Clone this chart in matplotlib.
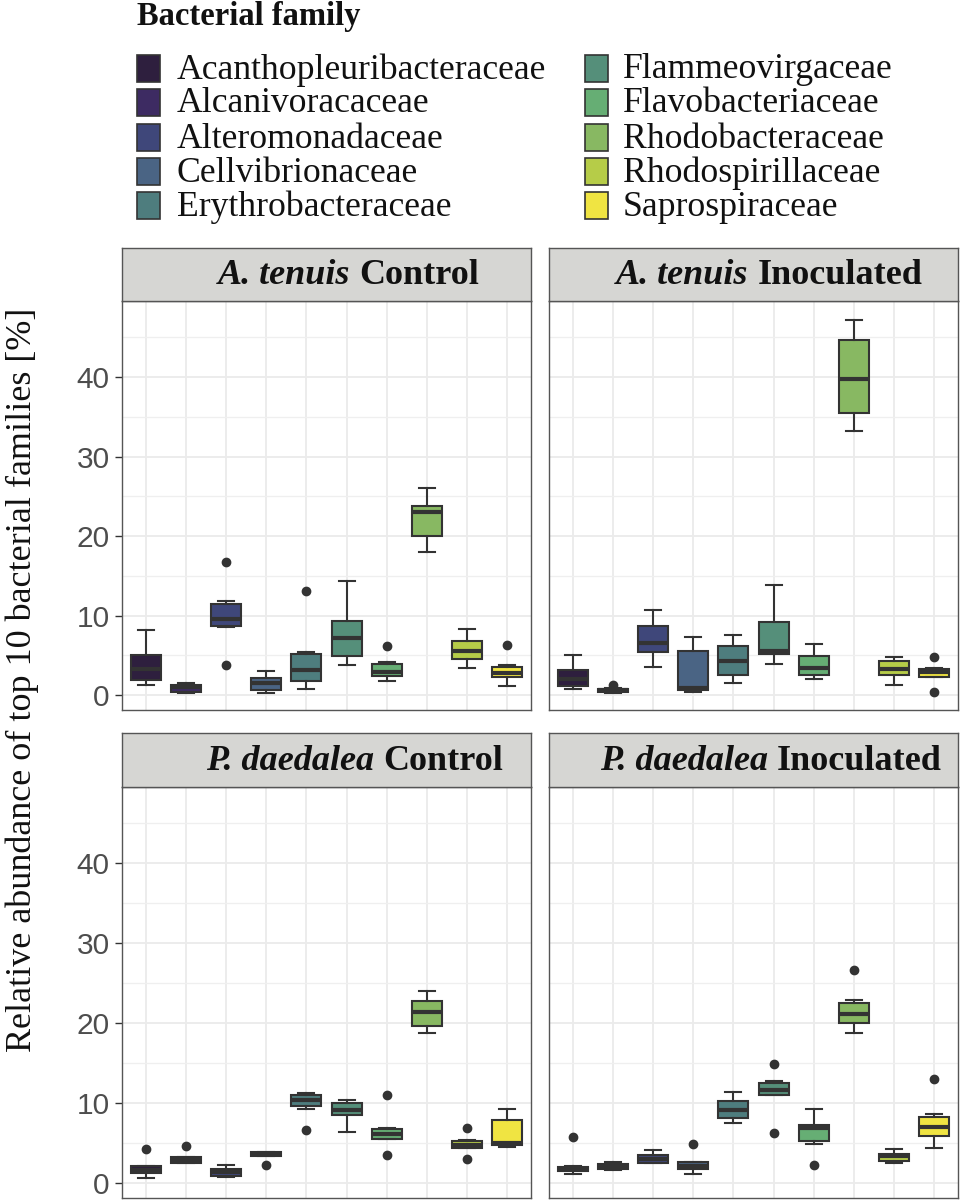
import matplotlib
matplotlib.use("Agg")
import matplotlib.pyplot as plt
from matplotlib.patches import Rectangle

W, H = 962, 1202

families = ["Acanthopleuribacteraceae", "Alcanivoracaceae", "Alteromonadaceae",
            "Cellvibrionaceae", "Erythrobacteraceae", "Flammeovirgaceae",
            "Flavobacteriaceae", "Rhodobacteraceae", "Rhodospirillaceae",
            "Saprospiraceae"]
colors = ["#2E1F3E", "#3D2B62", "#3F477A", "#4A6484", "#4E7D7E",
          "#558F7A", "#66AE74", "#88B862", "#B6CC48", "#F0E442"]

species = ["A. tenuis", "A. tenuis", "P. daedalea", "P. daedalea"]
treatments = ["Control", "Inoculated", "Control", "Inoculated"]

# A. tenuis Control
atc_whislo = [1.34, 0.33, 8.58, 0.29, 0.84, 3.85, 1.76, 18.0, 3.43, 1.21]
atc_q1 = [1.97, 0.42, 8.74, 0.71, 1.84, 4.9, 2.38, 20.0, 4.6, 2.26]
atc_med = [3.35, 1.0, 9.62, 1.55, 3.14, 7.2, 2.93, 23.0, 5.52, 2.8]
atc_q3 = [5.0, 1.34, 11.46, 2.18, 5.15, 9.37, 3.9, 23.8, 6.78, 3.6]
atc_whishi = [8.2, 1.55, 11.8, 3.0, 5.5, 14.3, 4.14, 26.0, 8.37, 3.85]
atc_out = [[], [], [16.8, 3.77], [], [13.1], [], [6.15], [], [], [6.28]]

# A. tenuis Inoculated
ati_whislo = [0.8, 0.33, 3.56, 0.38, 1.55, 3.97, 2.05, 33.2, 1.34, 2.3]
ati_q1 = [1.21, 0.42, 5.44, 0.71, 2.51, 5.19, 2.51, 35.5, 2.51, 2.3]
ati_med = [2.09, 0.63, 6.57, 0.92, 4.35, 5.52, 3.43, 39.8, 3.3, 2.93]
ati_q3 = [3.22, 0.84, 8.74, 5.6, 6.15, 9.2, 4.98, 44.6, 4.27, 3.3]
ati_whishi = [5.1, 0.9, 10.67, 7.28, 7.53, 13.85, 6.44, 47.2, 4.77, 3.43]
ati_out = [[], [1.34], [], [], [], [], [], [], [], [4.8, 0.38]]

# P. daedalea Control
pdc_whislo = [0.63, 2.5, 0.75, 3.38, 9.3, 6.4, 5.54, 18.8, 4.46, 4.58]
pdc_q1 = [1.3, 2.5, 0.88, 3.38, 9.6, 8.5, 5.54, 19.7, 4.46, 4.83]
pdc_med = [1.7, 2.92, 1.38, 3.67, 10.4, 9.1, 6.17, 21.4, 4.8, 5.08]
pdc_q3 = [2.13, 3.33, 1.8, 3.9, 11.08, 10.04, 6.75, 22.8, 5.3, 7.96]
pdc_whishi = [2.13, 3.33, 2.3, 3.9, 11.3, 10.4, 6.95, 24.1, 5.4, 9.3]
pdc_out = [[4.3], [4.67], [], [2.33], [6.67], [], [11.0, 3.5], [], [6.9, 3.0], []]

# P. daedalea Inoculated
pdi_whislo = [1.13, 1.7, 2.58, 1.17, 7.5, 11.0, 4.9, 18.8, 2.58, 4.4]
pdi_q1 = [1.5, 1.8, 2.58, 1.75, 8.1, 11.0, 5.33, 20.0, 2.83, 5.9]
pdi_med = [1.8, 2.13, 3.08, 2.13, 9.2, 11.6, 6.9, 21.2, 3.4, 7.04]
pdi_q3 = [2.04, 2.42, 3.58, 2.63, 10.3, 12.5, 7.25, 22.5, 3.7, 8.33]
pdi_whishi = [2.1, 2.7, 4.2, 2.7, 11.4, 12.8, 9.25, 22.9, 4.25, 8.7]
pdi_out = [[5.8], [], [], [4.96], [], [14.9, 6.25], [2.25], [26.7], [], [13.0]]

yticks = [0, 10, 20, 30, 40]
ytick_labels = ["0", "10", "20", "30", "40"]
ylabel = "Relative abundance of top 10 bacterial families [%]"
legend_title = "Bacterial family"

panel_data = [
    (atc_whislo, atc_q1, atc_med, atc_q3, atc_whishi, atc_out),
    (ati_whislo, ati_q1, ati_med, ati_q3, ati_whishi, ati_out),
    (pdc_whislo, pdc_q1, pdc_med, pdc_q3, pdc_whishi, pdc_out),
    (pdi_whislo, pdi_q1, pdi_med, pdi_q3, pdi_whishi, pdi_out),
]

SERIF = ["Liberation Serif", "DejaVu Serif"]
SANS = ["Liberation Sans", "DejaVu Sans"]
EDGE = "#333333"
TXT = "#111111"

fig = plt.figure(figsize=(W / 100, H / 100), dpi=100)


def px_axes(x0, y0, x1, y1, **kw):
    return fig.add_axes([x0 / W, 1 - y1 / H, (x1 - x0) / W, (y1 - y0) / H], **kw)


panels = [(122, 301, 531, 710), (549, 301, 958, 710),
          (122, 787, 531, 1198), (549, 787, 958, 1198)]
strips = [(122, 248, 531, 301), (549, 248, 958, 301),
          (122, 733, 531, 787), (549, 733, 958, 787)]
strip_text_left = [218, 616, 206, 600]

positions = list(range(1, len(families) + 1))

for i, (pb, data) in enumerate(zip(panels, panel_data)):
    ax = px_axes(*pb)
    wl, q1, md, q3, wh, out = data
    stats = []
    for k in range(len(families)):
        stats.append(dict(whislo=wl[k], q1=q1[k], med=md[k], q3=q3[k],
                          whishi=wh[k], fliers=out[k], label=families[k]))
    bp = ax.bxp(stats, positions=positions, widths=0.75, capwidths=0.4,
                patch_artist=True, showfliers=True,
                boxprops=dict(edgecolor=EDGE, linewidth=1.5),
                medianprops=dict(color=EDGE, linewidth=3.0, solid_capstyle="butt"),
                whiskerprops=dict(color=EDGE, linewidth=1.5),
                capprops=dict(color=EDGE, linewidth=1.5),
                flierprops=dict(marker="o", markerfacecolor=EDGE,
                                markeredgecolor=EDGE, markersize=6.0))
    for patch, c in zip(bp["boxes"], colors):
        patch.set_facecolor(c)
    for artist_list in bp.values():
        for a in artist_list:
            a.set_zorder(3)
    ax.set_xlim(0.4, 10.6)
    ax.set_ylim(-1.85, 49.55)
    ax.set_xticks(positions)
    ax.set_xticklabels([])
    ax.set_yticks(yticks)
    ax.set_yticks([5, 15, 25, 35, 45], minor=True)
    ax.grid(True, which="major", color="#EBEBEB", linewidth=1.3, zorder=0)
    ax.grid(True, which="minor", axis="y", color="#EFEFEF", linewidth=0.9, zorder=0)
    ax.set_axisbelow(True)
    ax.tick_params(axis="x", length=0)
    ax.tick_params(axis="y", which="minor", length=0)
    if i % 2 == 0:
        ax.set_yticklabels(ytick_labels, fontfamily=SANS, fontsize=21.5, color="#4D4D4D")
        ax.tick_params(axis="y", which="major", length=5, width=1, color=EDGE, pad=4)
    else:
        ax.set_yticklabels([])
        ax.tick_params(axis="y", which="major", length=0)
    for sp in ax.spines.values():
        sp.set_color("#555555")
        sp.set_linewidth(1.0)

    # strip
    sb = strips[i]
    sax = px_axes(*sb)
    sax.set_xlim(0, 1)
    sax.set_ylim(0, 1)
    sax.set_xticks([])
    sax.set_yticks([])
    sax.set_facecolor("#D6D6D3")
    for sp in sax.spines.values():
        sp.set_color("#555555")
        sp.set_linewidth(1.0)
    yc = 1 - ((sb[1] + sb[3]) / 2 + 1) / H
    x_left = strip_text_left[i] / W
    t1 = fig.text(x_left, yc, species[i], fontfamily=SERIF, fontsize=26,
                  fontweight="bold", fontstyle="italic", va="center", ha="left",
                  color=TXT)
    fig.canvas.draw()
    bb = t1.get_window_extent()
    sp_w = 26 * 0.25 * 100 / 72
    fig.text((bb.x1 + sp_w) / W, yc, treatments[i], fontfamily=SERIF, fontsize=26,
             fontweight="bold", va="center", ha="left", color=TXT)

# y label
fig.text(22 / W, 1 - 680 / H, ylabel, rotation=90, fontfamily=SERIF, fontsize=26,
         va="center", ha="center", color=TXT)

# legend
fig.text(137 / W, 1 - 17 / H, legend_title, fontfamily=SERIF, fontsize=23.5,
         fontweight="bold", va="center", ha="left", color=TXT)
row_y = [68, 102, 137, 171, 205]
col_key_x = [137, 585]
col_lab_x = [177, 623]
kw, kh = 23, 27
for k, (name, c) in enumerate(zip(families, colors)):
    col, row = divmod(k, 5)
    x = col_key_x[col]
    y = row_y[row]
    fig.patches.append(Rectangle((x / W, 1 - (y + kh / 2) / H), kw / W, kh / H,
                                 transform=fig.transFigure, facecolor=c,
                                 edgecolor=EDGE, linewidth=1.2))
    fig.text(col_lab_x[col] / W, 1 - (y + 2) / H, name, fontfamily=SERIF, fontsize=25.7,
             va="center", ha="left", color=TXT)

fig.savefig("out.png", dpi=100)
